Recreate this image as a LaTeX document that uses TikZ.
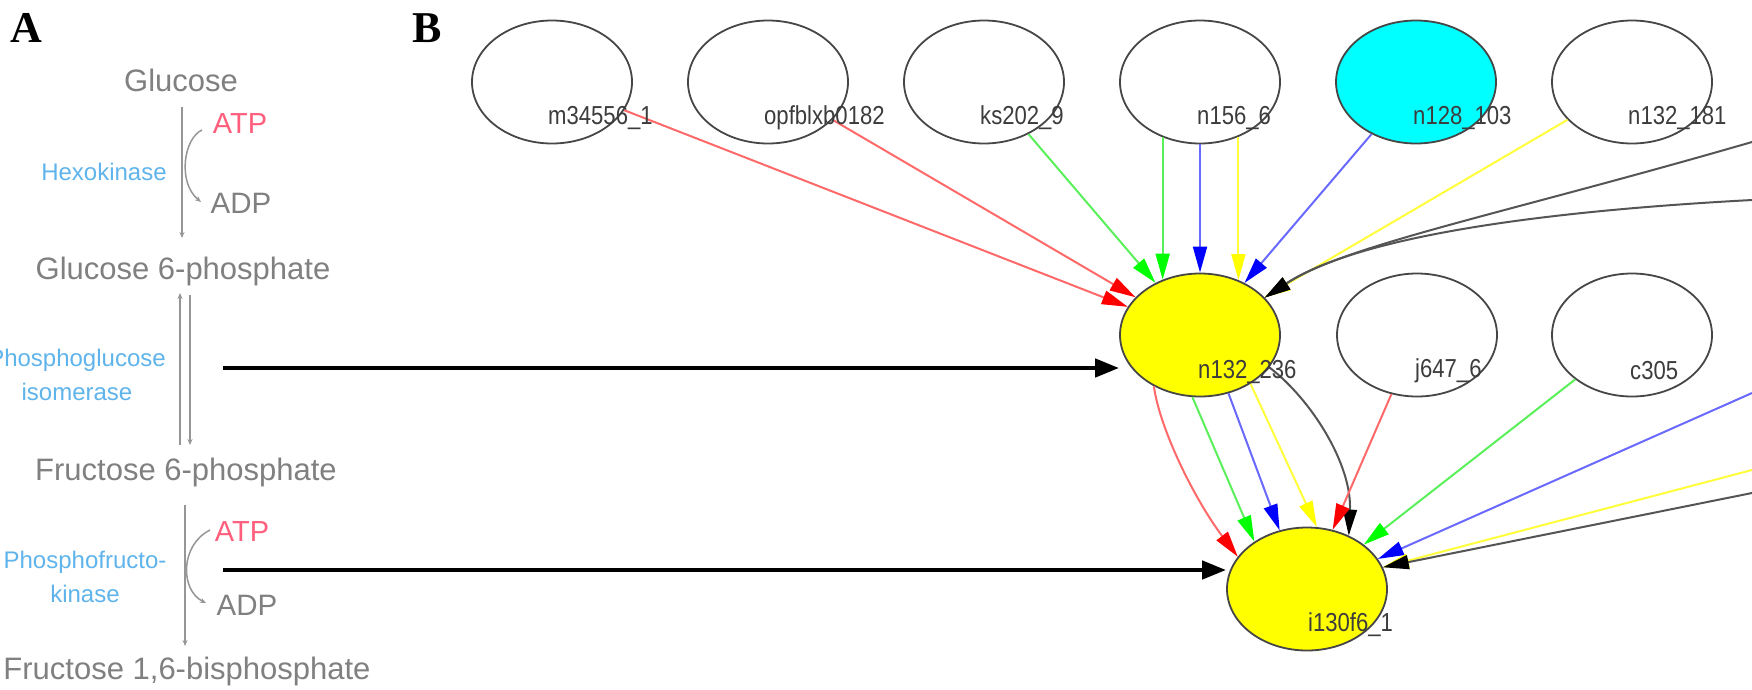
\documentclass[tikz,border=0pt]{standalone}
\usepackage{fontspec}
\setmainfont{Liberation Sans}
\newfontfamily\lblfont[FakeStretch=0.85]{Liberation Sans}
\newfontfamily\panelfont{Liberation Serif}
\usetikzlibrary{shapes.geometric,arrows.meta,calc}
\definecolor{txtgray}{RGB}{128,128,128}
\definecolor{atppink}{RGB}{255,95,125}
\definecolor{enzblue}{RGB}{95,180,235}
\definecolor{pathgray}{RGB}{150,150,150}
\definecolor{outline}{RGB}{70,70,70}
\definecolor{lblgray}{RGB}{60,60,60}
\definecolor{nodecyan}{RGB}{0,255,255}
\definecolor{nodeyellow}{RGB}{255,255,0}
\definecolor{tipred}{RGB}{255,0,0}
\definecolor{tipgreen}{RGB}{0,255,0}
\definecolor{tipblue}{RGB}{0,0,255}
\definecolor{tipyellow}{RGB}{255,255,0}
\definecolor{lred}{RGB}{255,105,105}
\definecolor{lgreen}{RGB}{90,240,90}
\definecolor{lblue}{RGB}{105,105,255}
\definecolor{lyellow}{RGB}{255,255,60}
\definecolor{lblack}{RGB}{85,85,85}
\begin{document}
\begin{tikzpicture}[x=1pt,y=-1pt,
  gnode/.style={ellipse, draw=outline, line width=1.8pt, minimum width=160pt, minimum height=123pt, inner sep=0pt},
  lbl/.style={anchor=west, inner sep=0pt, text=lblgray, font=\lblfont\fontsize{26}{28}\selectfont},
  gtxt/.style={inner sep=0pt, text=txtgray, font=\fontsize{31}{33}\selectfont},
  atptxt/.style={inner sep=0pt, text=atppink, font=\fontsize{29}{31}\selectfont},
  adptxt/.style={inner sep=0pt, text=txtgray, font=\fontsize{29.5}{31}\selectfont},
  enz/.style={inner sep=0pt, text=enzblue, align=center, font=\fontsize{24}{34}\selectfont},
  panel/.style={inner sep=0pt, font=\panelfont\bfseries\fontsize{44}{44}\selectfont},
  pw/.style={draw=pathgray, line width=1.5pt},
  pwtip/.style={pw, -{Stealth[length=6pt,width=5pt]}},
  bigarrow/.style={line width=4.5pt, draw=black, -{Triangle[length=24pt,width=18pt]}},
  eR/.style={draw=lred, line width=2pt, -{Triangle[length=26pt,width=14pt,color=tipred]}},
  eG/.style={draw=lgreen, line width=2pt, -{Triangle[length=26pt,width=14pt,color=tipgreen]}},
  eB/.style={draw=lblue, line width=2pt, -{Triangle[length=26pt,width=14pt,color=tipblue]}},
  eY/.style={draw=lyellow, line width=2pt, -{Triangle[length=26pt,width=14pt,color=tipyellow]}},
  eK/.style={draw=lblack, line width=2pt, -{Triangle[length=26pt,width=14pt,color=black]}}
]
\fill[white] (0,0) rectangle (1752,689);
\useasboundingbox (0,0) rectangle (1752,689);

% ---------- Panel A ----------
\node[panel] (pA) at (26,28) {A};
\node[gtxt] (glc) at (181,80) {Glucose};
\node[atptxt] (atp1) at (240,124) {ATP};
\node[enz] (hk) at (104,172) {Hexokinase};
\node[adptxt] (adp1) at (241,203) {ADP};
\node[gtxt] (g6p) at (183,271) {Glucose 6-phosphate};
\node[enz] (pgi) at (77,375) {Phosphoglucose\\isomerase};
\node[gtxt] (f6p) at (186,472) {Fructose 6-phosphate};
\node[atptxt] (atp2) at (242,532) {ATP};
\node[enz] (pfk) at (85,577) {Phosphofructo-\\kinase};
\node[adptxt] (adp2) at (247,605) {ADP};
\node[gtxt] (f16) at (187,671) {Fructose 1,6-bisphosphate};

\coordinate (v1a) at (182,107);
\coordinate (v1b) at (182,238);
\draw[pwtip] (v1a) -- (v1b);
\coordinate (c1a) at (202,130);
\coordinate (c1b) at (201,202);
\draw[pwtip] (c1a) .. controls (184,138) and (177,182) .. (c1b);

\coordinate (d1a) at (180,445);
\coordinate (d1b) at (180,293);
\coordinate (d2a) at (190,295);
\coordinate (d2b) at (190,445);
\draw[pwtip] (d1a) -- (d1b);
\draw[pwtip] (d2a) -- (d2b);

\coordinate (v2a) at (185,505);
\coordinate (v2b) at (185,646);
\draw[pwtip] (v2a) -- (v2b);
\coordinate (c2a) at (210,530);
\coordinate (c2b) at (206,603);
\draw[pwtip] (c2a) .. controls (180,545) and (180,590) .. (c2b);

% ---------- Panel B ----------
\node[panel] (pB) at (427,28) {B};

\node[gnode] (m1) at (552,82) {};
\node[gnode] (m2) at (768,82) {};
\node[gnode] (m3) at (984,82) {};
\node[gnode] (m4) at (1200,82) {};
\node[gnode, fill=nodecyan] (m5) at (1416,82) {};
\node[gnode] (m6) at (1632,82) {};
\node[gnode, fill=nodeyellow] (n132) at (1200,335) {};
\node[gnode] (j647) at (1417,335) {};
\node[gnode] (c305) at (1632,335) {};
\node[gnode, fill=nodeyellow] (i130) at (1307,589) {};

% thick arrows from panel A
\coordinate (s1) at (223,368);
\coordinate (s2) at (223,570);
\draw[bigarrow] (s1) -- (s1 -| n132.west);
\draw[bigarrow] (s2) -- (s2 -| i130.west);

% edges into n132_236
\draw[eR] (m1) -- (n132);
\draw[eR] (m2) -- (n132);
\draw[eG] (m3) -- (n132);
\draw[eG] (m4.-124.6) -- (n132.124.6);
\draw[eB] (m4) -- (n132);
\draw[eY] (m4.-55.4) -- (n132.55.4);
\draw[eB] (m5) -- (n132);
\draw[eY] (m6) -- (n132);
\coordinate (rc1) at (1752,142);
\coordinate (rc2) at (1752,200);
\draw[eK] (rc1) .. controls (1500,215) and (1345,245) .. (n132.30.5);
\draw[eK] (rc2) .. controls (1490,214) and (1345,245) .. (n132.30.5);

% edges into i130f6_1
\draw[eR] (n132.-132) .. controls (1160,430) and (1195,500) .. (i130.155);
\draw[eG] (n132.-97) -- (i130.138);
\draw[eB] (n132.-64) -- (i130.115);
\draw[eY] (n132.-44) -- (i130.81);
\draw[eK] (n132.-25) .. controls (1312,400) and (1352,465) .. (i130.52);
\draw[eR] (j647) -- (i130);
\draw[eG] (c305) -- (i130);
\coordinate (rb) at (1752,393);
\coordinate (ry) at (1752,470);
\coordinate (rk) at (1752,493);
\draw[eB] (rb) -- (i130.23);
\draw[eY] (ry) -- (i130.16);
\draw[eK] (rk) -- (i130.16);

% labels
\node[lbl] (m1l) at ($(m1.center)+(-4,36)$) {m34556\_1};
\node[lbl] (m2l) at ($(m2.center)+(-4,36)$) {opfblxb0182};
\node[lbl] (m3l) at ($(m3.center)+(-4,36)$) {ks202\_9};
\node[lbl] (m4l) at ($(m4.center)+(-3,36)$) {n156\_6};
\node[lbl] (m5l) at ($(m5.center)+(-3,36)$) {n128\_103};
\node[lbl] (m6l) at ($(m6.center)+(-4,36)$) {n132\_181};
\node[lbl] (n132l) at ($(n132.center)+(-2,37)$) {n132\_236};
\node[lbl] (j647l) at ($(j647.center)+(-2,36)$) {j647\_6};
\node[lbl] (c305l) at ($(c305.center)+(-2,36)$) {c305};
\node[lbl] (i130l) at ($(i130.center)+(1,36)$) {i130f6\_1};
\end{tikzpicture}
\end{document}
